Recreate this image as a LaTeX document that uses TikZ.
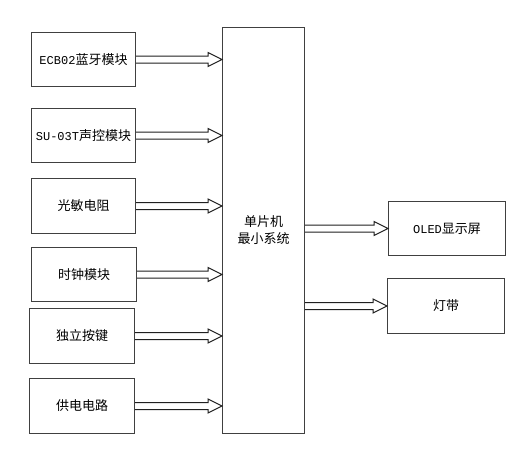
\documentclass[tikz,border=0pt]{standalone}
\usepackage{fontspec}
\newfontfamily\cjk{Noto Sans CJK SC}
\newfontfamily\lat{Liberation Mono}
\usetikzlibrary{calc}
\definecolor{ln}{HTML}{404040}
\definecolor{al}{HTML}{202020}
\tikzset{
  blk/.style={draw=ln, line width=1pt, fill=white, inner sep=0pt, anchor=north west, align=center, font=\cjk\fontsize{13}{17}\selectfont},
  fat/.style={draw=al, line width=1pt, fill=white, line join=miter}
}
\newcommand{\fatarrow}[2]{%
  \draw[fat] ($(#1)+(0,3.5)$) -- ($(#2)+(-14,3.5)$) -- ($(#2)+(-14,7)$) -- (#2)
    -- ($(#2)+(-14,-7)$) -- ($(#2)+(-14,-3.5)$) -- ($(#1)+(0,-3.5)$);}
\newcommand{\latt}[1]{{\lat\fontsize{12}{14}\selectfont #1}}
\begin{document}
\begin{tikzpicture}[x=1pt,y=-1pt]
\useasboundingbox (0,0) rectangle (527,450);
\node[blk, minimum width=104pt, minimum height=54pt] (b1) at (31,32) {\latt{ECB02}蓝牙模块};
\node[blk, minimum width=104pt, minimum height=54pt] (b2) at (31,108) {\latt{SU-03T}声控模块};
\node[blk, minimum width=104pt, minimum height=55pt] (b3) at (31,178) {光敏电阻};
\node[blk, minimum width=105pt, minimum height=54pt] (b4) at (31,247) {时钟模块};
\node[blk, minimum width=105pt, minimum height=55pt] (b5) at (29,308) {独立按键};
\node[blk, minimum width=105pt, minimum height=55pt] (b6) at (29,378) {供电电路};
\node[blk, minimum width=82pt, minimum height=406pt] (mcu) at (222,27) {单片机\\最小系统};
\node[blk, minimum width=117pt, minimum height=54pt] (oled) at (388,201) {\latt{OLED}显示屏};
\node[blk, minimum width=117pt, minimum height=55pt] (led) at (387,278) {灯带};
\foreach \b in {b1,b2,b3,b4,b5,b6} {
  \fatarrow{\b.east}{mcu.west |- \b.east}
}
\fatarrow{mcu.east |- oled.west}{oled.west}
\fatarrow{mcu.east |- led.west}{led.west}
\end{tikzpicture}
\end{document}
